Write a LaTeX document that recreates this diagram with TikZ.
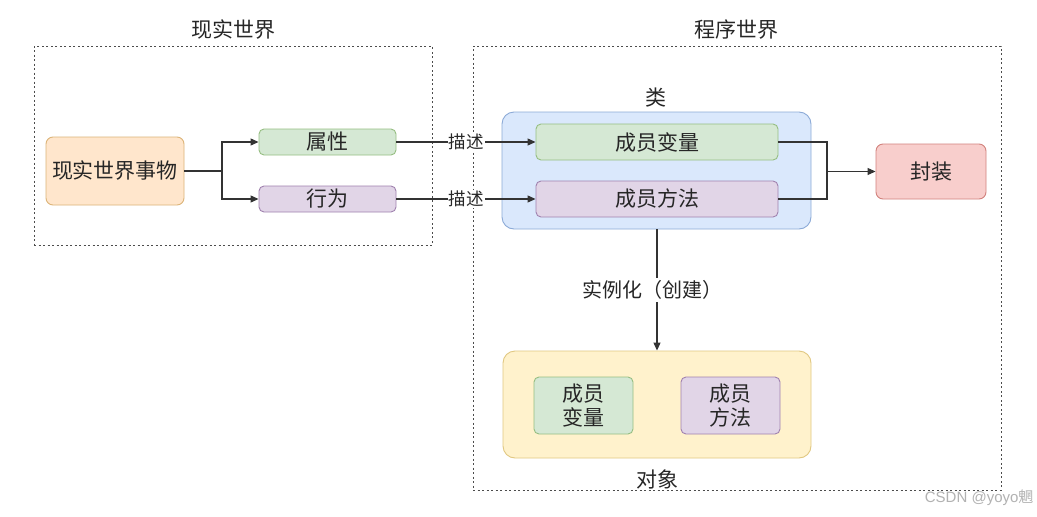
\documentclass[tikz,border=0pt]{standalone}
\usepackage{fontspec}
\setmainfont{Noto Sans CJK SC}
\newfontfamily\wmfont{Liberation Sans}
\usetikzlibrary{arrows.meta}
\begin{document}
\begin{tikzpicture}[x=1pt,y=-1pt,
  every node/.style={font=\fontsize{21}{24}\selectfont, text=black!85},
  region/.style={draw=black!70, dash pattern=on 2pt off 2.5pt, line width=1pt},
  rbox/.style={draw, rounded corners=5pt, line width=0.9pt, inner sep=0pt},
  gbox/.style={rbox, fill={rgb,255:red,213;green,232;blue,212}, draw={rgb,255:red,150;green,190;blue,130}},
  pbox/.style={rbox, fill={rgb,255:red,225;green,213;blue,231}, draw={rgb,255:red,160;green,130;blue,175}},
  obox/.style={rbox, rounded corners=7pt, fill={rgb,255:red,255;green,230;blue,204}, draw={rgb,255:red,220;green,180;blue,120}},
  bbox/.style={rbox, rounded corners=12pt, fill={rgb,255:red,218;green,232;blue,252}, draw={rgb,255:red,140;green,170;blue,215}},
  ybox/.style={rbox, rounded corners=12pt, fill={rgb,255:red,255;green,242;blue,204}, draw={rgb,255:red,225;green,200;blue,130}},
  rdbox/.style={rbox, rounded corners=7pt, fill={rgb,255:red,248;green,206;blue,204}, draw={rgb,255:red,210;green,130;blue,125}},
  conn/.style={draw=black!80, line width=1.1pt},
  arr/.style={conn, -{Triangle[length=8pt,width=7pt]}},
  small/.style={font=\fontsize{17.5}{20}\selectfont}
]
\useasboundingbox (0,0) rectangle (1037,517);
\fill[white] (0,0) rectangle (1037,517);

% regions
\node[region, minimum width=398pt, minimum height=199pt, inner sep=0pt] (realw) at (233,145.5) {};
\node[region, minimum width=528pt, minimum height=444pt, inner sep=0pt] (progw) at (737,268) {};
\node (realt) at (233,30) {现实世界};
\node (progt) at (736,30) {程序世界};

% real world
\node[obox, minimum width=138pt, minimum height=68pt] (thing) at (115,171) {现实世界事物};
\node[gbox, minimum width=137pt, minimum height=26pt] (attr) at (327.5,142) {属性};
\node[pbox, minimum width=137pt, minimum height=26pt] (beh) at (327.5,199) {行为};
\coordinate (split) at (222,171);

% class
\node[bbox, minimum width=309pt, minimum height=117pt] (cls) at (656.5,170.5) {};
\node (clst) at (656,98) {类};
\node[gbox, minimum width=242pt, minimum height=36pt] (mvar) at (657,142) {成员变量};
\node[pbox, minimum width=242pt, minimum height=36pt] (mmeth) at (657,199) {成员方法};
\node[rdbox, minimum width=110pt, minimum height=55pt] (enc) at (931,171.5) {封装};
\coordinate (join) at (827,171.5);

% object
\node[ybox, minimum width=308pt, minimum height=107pt] (obj) at (657,404.5) {};
\node (objt) at (657,479) {对象};
\node[gbox, minimum width=99pt, minimum height=57pt, align=center, font=\fontsize{21}{24}\selectfont] (ovar) at (583.5,405.5) {成员\\变量};
\node[pbox, minimum width=99pt, minimum height=57pt, align=center, font=\fontsize{21}{24}\selectfont] (ometh) at (730.5,405.5) {成员\\方法};

% connectors
\draw[conn] (thing.east) -- (split);
\draw[arr] (split) |- (attr.west);
\draw[arr] (split) |- (beh.west);
\draw[arr] (attr.east) -- node[small, fill=white, inner sep=1pt] (d1) {描述} (mvar.west);
\draw[arr] (beh.east) -- node[small, fill=white, inner sep=1pt] (d2) {描述} (mmeth.west);
\draw[conn] (mvar.east) -| (join);
\draw[conn] (mmeth.east) -| (join);
\draw[arr] (join) -- (enc.west);
\draw[arr] (cls.south -| obj.north) -- node[fill=white, inner sep=2pt, font=\fontsize{20}{22}\selectfont, xshift=-5pt] (inst) {实例化（创建）} (obj.north);

% watermark
\node[text=black!30, font=\wmfont\fontsize{15}{17}\selectfont, anchor=east] (wm) at (1037,498) {CSDN @yoyo{\fontspec{Noto Sans CJK SC}魍}};
\end{tikzpicture}
\end{document}
